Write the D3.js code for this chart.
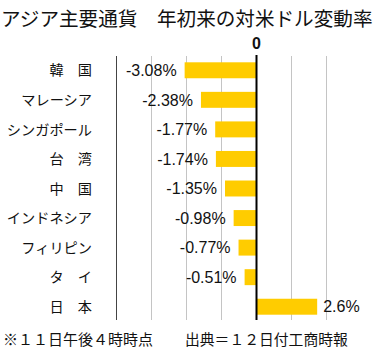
<!DOCTYPE html>
<html>
<head>
<meta charset="utf-8">
<script src="https://cdn.jsdelivr.net/npm/d3@7"></script>
<style>
  body { margin: 0; background: #fff; }
  svg { display: block; }
  text { font-family: "Noto Sans CJK JP", sans-serif; fill: #111; }
  .val { font-family: "Liberation Sans", "Noto Sans", sans-serif; }
</style>
</head>
<body>
<svg id="chart"></svg>
<script>
const countries = ['韓　国', 'マレーシア', 'シンガポール', '台　湾', '中　国', 'インドネシア', 'フィリピン', 'タ　イ', '日　本'];
const changes = [-3.08, -2.38, -1.77, -1.74, -1.35, -0.98, -0.77, -0.51, 2.6];
const valueLabels = ['-3.08%', '-2.38%', '-1.77%', '-1.74%', '-1.35%', '-0.98%', '-0.77%', '-0.51%', '2.6%'];
const gridTicks = [-6, -4.5, -3, -1.5, 0, 1.5, 3];
const title = 'アジア主要通貨　年初来の対米ドル変動率';
const noteLeft = '※１１日午後４時時点';
const noteRight = '出典＝１２日付工商時報';

const width = 376, height = 351;
const svg = d3.select('#chart').attr('width', width).attr('height', height);

const x = d3.scaleLinear().domain([-6, 3]).range([116.5, 326.5]);
const y = d3.scaleBand().domain(countries).range([55.5, 321.5]).paddingInner(0.46).paddingOuter(0.23);

svg.append('text')
    .attr('x', 1).attr('y', 26)
    .attr('font-size', 19.6)
    .text(title);

// grid
svg.append('g').selectAll('line')
    .data(gridTicks.filter(d => d !== 0 && d !== -6))
    .join('line')
    .attr('x1', d => x(d)).attr('x2', d => x(d))
    .attr('y1', 56).attr('y2', 320)
    .attr('stroke', '#c4c4c4').attr('stroke-width', 1);

svg.append('line')
    .attr('x1', x(-6)).attr('x2', x(-6))
    .attr('y1', 56).attr('y2', 320)
    .attr('stroke', '#444').attr('stroke-width', 1);

// bars
svg.append('g').selectAll('rect')
    .data(changes)
    .join('rect')
    .attr('x', d => x(Math.min(0, d)))
    .attr('width', d => Math.abs(x(d) - x(0)))
    .attr('y', (d, i) => y(countries[i]))
    .attr('height', y.bandwidth())
    .attr('fill', '#FFCC00');

// zero line
svg.append('line')
    .attr('x1', x(0)).attr('x2', x(0))
    .attr('y1', 55).attr('y2', 320)
    .attr('stroke', '#000').attr('stroke-width', 2);

svg.append('text')
    .attr('x', x(0)).attr('y', 49)
    .attr('text-anchor', 'middle')
    .attr('font-size', 16).attr('font-weight', 'bold')
    .attr('class', 'val')
    .text('0');

// category labels
svg.append('g').selectAll('text')
    .data(countries)
    .join('text')
    .attr('x', 92)
    .attr('y', d => y(d) + y.bandwidth() / 2)
    .attr('dy', '0.36em')
    .attr('text-anchor', 'end')
    .attr('font-size', 14.2)
    .text(d => d);

// value labels
svg.append('g').selectAll('text')
    .data(changes)
    .join('text')
    .attr('class', 'val')
    .attr('x', d => d < 0 ? x(d) - 8 : x(d) + 6)
    .attr('y', (d, i) => y(countries[i]) + y.bandwidth() / 2)
    .attr('dy', '0.36em')
    .attr('text-anchor', d => d < 0 ? 'end' : 'start')
    .attr('font-size', 16)
    .text((d, i) => valueLabels[i]);

svg.append('text')
    .attr('x', 3).attr('y', 345)
    .attr('font-size', 15)
    .text(noteLeft);

svg.append('text')
    .attr('x', 185).attr('y', 345)
    .attr('font-size', 14.8)
    .text(noteRight);
</script>
</body>
</html>
